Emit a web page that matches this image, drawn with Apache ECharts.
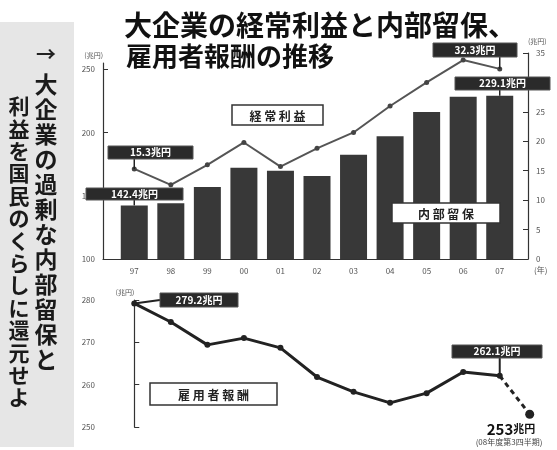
<!DOCTYPE html>
<html><head><meta charset="utf-8">
<script src="https://cdn.jsdelivr.net/npm/echarts@6/dist/echarts.min.js"></script>
<style>html,body{margin:0;padding:0;background:#fff}#c{width:557px;height:450px}</style>
</head><body><div id="c"></div>
<script>
// ---- data ----
const years = ['97','98','99','00','01','02','03','04','05','06','07'];
const reserves = [142.4,144.0,156.9,172.1,169.7,165.7,182.5,197.0,216.3,228.3,229.1]; // 内部留保 兆円
const profits = [15.3,12.6,16.0,19.8,15.7,18.8,21.5,26.0,30.0,33.8,32.3];              // 経常利益 兆円
const compensation = [279.2,274.8,269.4,271.0,268.7,261.8,258.3,255.7,258.0,263.0,262.1]; // 雇用者報酬 兆円
const latestComp = 253;      // 08年度 第3四半期
const latestPos = 10.82;     // position after '07'
const leftTicks = [100,250,50];
const rightTicks = [0,35,5];
const compTicks = [250,280,10];

const FONT = '"Noto Sans CJK JP","Noto Sans",sans-serif';
const chart = echarts.init(document.getElementById('c'), null, {renderer:'canvas'});
const band = 402/11;
const axisCol = '#333';
const lblStyle = {fontSize:8, color:'#555', fontFamily:FONT};

const option = {
  backgroundColor:'#fff',
  animation:false,
  grid:[
    {left:116, width:402, top:63, height:196},
    {left:116, width:402, top:53, height:206},
    {left:103, width:425, top:63, height:196},
    {left:116, width:band*11.5, top:300, height:127}
  ],
  xAxis:[
    {gridIndex:0, type:'category', data:years, boundaryGap:true,
     axisLine:{show:false}, axisTick:{show:false},
     axisLabel:Object.assign({margin:8}, lblStyle)},
    {gridIndex:1, type:'category', data:years, boundaryGap:true, show:false},
    {gridIndex:2, type:'value', min:0, max:1, axisLine:{show:true, lineStyle:{color:axisCol, width:1.2}},
     axisTick:{show:false}, axisLabel:{show:false}, splitLine:{show:false}},
    {gridIndex:3, type:'value', min:-0.5, max:11, show:false}
  ],
  yAxis:[
    {gridIndex:0, type:'value', min:leftTicks[0], max:255, interval:leftTicks[2], offset:13, position:'left',
     name:'(兆円)', nameLocation:'end', nameGap:4, nameTextStyle:{fontSize:7, color:'#555', align:'right', fontFamily:FONT},
     axisLine:{show:true, lineStyle:{color:axisCol, width:1.2}}, axisTick:{show:true, inside:true, length:5, lineStyle:{color:axisCol}},
     axisLabel:lblStyle, splitLine:{show:false}},
    {gridIndex:1, type:'value', min:rightTicks[0], max:rightTicks[1], interval:rightTicks[2], offset:10, position:'right',
     name:'(兆円)', nameLocation:'end', nameGap:8, nameTextStyle:{fontSize:7, color:'#555', align:'left', fontFamily:FONT},
     axisLine:{show:true, lineStyle:{color:axisCol, width:1.2}}, axisTick:{show:true, inside:true, length:5, lineStyle:{color:axisCol}},
     axisLabel:lblStyle, splitLine:{show:false}},
    {gridIndex:2, type:'value', show:false},
    {gridIndex:3, type:'value', min:compTicks[0], max:compTicks[1], interval:compTicks[2], offset:13, position:'left',
     name:'(兆円)', nameLocation:'end', nameGap:4, nameTextStyle:{fontSize:7, color:'#555', align:'right', fontFamily:FONT},
     axisLine:{show:true, lineStyle:{color:axisCol, width:1.2}}, axisTick:{show:true, inside:true, length:5, lineStyle:{color:axisCol}},
     axisLabel:lblStyle, splitLine:{show:false}}
  ],
  series:[
    {type:'bar', xAxisIndex:0, yAxisIndex:0, data:reserves, barWidth:27,
     itemStyle:{color:'#383838'}, z:2},
    {type:'line', xAxisIndex:1, yAxisIndex:1, data:profits, symbol:'circle', symbolSize:5,
     lineStyle:{color:'#555', width:2}, itemStyle:{color:'#444'}, z:3},
    {type:'line', xAxisIndex:3, yAxisIndex:3, data:compensation.map((v,i)=>[i,v]), symbol:'circle', symbolSize:6,
     lineStyle:{color:'#222', width:3}, itemStyle:{color:'#222'}, z:3},
    {type:'line', xAxisIndex:3, yAxisIndex:3, data:[[compensation.length-1, compensation[compensation.length-1]],[latestPos, latestComp]],
     symbol:'circle', symbolSize:(v,p)=>p.dataIndex===1?9:0, clip:false,
     lineStyle:{color:'#222', width:3, type:[5,4]}, itemStyle:{color:'#222'}, z:3}
  ]
};
chart.setOption(option);

const px = (xi, yi, x, y) => chart.convertToPixel({xAxisIndex:xi, yAxisIndex:yi}, [x, y]);
const last = years.length - 1;
const p97 = px(1,1,0,profits[0]);
const p07 = px(1,1,last,profits[last]);
const b97 = px(0,0,0,reserves[0]);
const b07 = px(0,0,last,reserves[last]);
const c97 = px(3,3,0,compensation[0]);
const c07 = px(3,3,last,compensation[last]);

function badge(x,y,w,h,text){
  return {type:'group', children:[
    {type:'rect', z:100, shape:{x:x,y:y,width:w,height:h}, style:{fill:'#2a2a2a', stroke:'#555', lineWidth:1}},
    {type:'text', z:101, style:{x:x+w/2, y:y+h/2, text:text, fill:'#fff', fontSize:10, fontWeight:'bold', fontFamily:FONT, align:'center', verticalAlign:'middle'}}
  ]};
}
function box(x,y,w,h,text){
  return {type:'group', children:[
    {type:'rect', z:100, shape:{x:x,y:y,width:w,height:h}, style:{fill:'#fff', stroke:'#333', lineWidth:1.5}},
    {type:'text', z:101, style:{x:x+w/2, y:y+h/2+1, text:text, fill:'#222', fontSize:12, fontWeight:'bold', fontFamily:FONT, align:'center', verticalAlign:'middle'}}
  ]};
}
function conn(x1,y1,x2,y2,w){
  return {type:'line', z:99, shape:{x1:x1,y1:y1,x2:x2,y2:y2}, style:{stroke:'#222', lineWidth:w||1.5}};
}
const colR = '大企業の過剰な内部留保と'.split('').join('\n');
const colL = '利益を国民のくらしに還元せよ'.split('').join('\n');

chart.setOption({graphic:[
  {type:'rect', z:0, shape:{x:0,y:22,width:74,height:425}, style:{fill:'#e6e6e6'}},
  {type:'text', z:10, style:{x:46, y:54, text:'→', fontSize:20, fontWeight:'bold', fill:'#222', fontFamily:FONT, align:'center', verticalAlign:'middle'}},
  {type:'text', z:10, style:{x:46, y:72, text:colR, fontSize:23, lineHeight:25, fontWeight:'bold', fill:'#1a1a1a', fontFamily:FONT, align:'center', verticalAlign:'top'}},
  {type:'text', z:10, style:{x:19, y:95, text:colL, fontSize:21, lineHeight:22.4, fontWeight:'bold', fill:'#1a1a1a', fontFamily:FONT, align:'center', verticalAlign:'top'}},
  {type:'text', z:10, style:{x:124, y:25, text:'大企業の経常利益と内部留保、', fontSize:28, fontWeight:'bold', fill:'#111', fontFamily:FONT, align:'left', verticalAlign:'middle'}},
  {type:'text', z:10, style:{x:126, y:56, text:'雇用者報酬の推移', fontSize:26, fontWeight:'bold', fill:'#111', fontFamily:FONT, align:'left', verticalAlign:'middle'}},
  {type:'text', z:10, style:{x:534, y:270, text:'(年)', fontSize:8, fill:'#555', fontFamily:FONT, align:'left', verticalAlign:'middle'}},
  box(232,105,91,20,'経 常 利 益'),
  box(392,203,108,20,'内 部 留 保'),
  box(150,383,127,22,'雇 用 者 報 酬'),
  conn(p97[0],159,p97[0],p97[1]),
  badge(108,146,85,13,'15.3兆円'),
  conn(b97[0],199,b97[0],b97[1]),
  badge(86,188,97,12,'142.4兆円'),
  conn(p07[0],56,p07[0],p07[1]),
  badge(433,43,84,14,'32.3兆円'),
  conn(b07[0],89,b07[0],b07[1]),
  badge(455,77,95,13,'229.1兆円'),
  conn(c97[0],c97[1],160,300,2),
  badge(160,293,78,14,'279.2兆円'),
  conn(c07[0],357,c07[0],c07[1],2),
  badge(452,345,90,13,'262.1兆円'),
  {type:'text', z:10, style:{x:511, y:429, text:'{a|253}{b|兆円}', rich:{a:{fontSize:15, fontWeight:'bold', fill:'#111', fontFamily:FONT}, b:{fontSize:11, fontWeight:'bold', fill:'#111', fontFamily:FONT}}, align:'center', verticalAlign:'middle'}},
  {type:'text', z:10, style:{x:509, y:442, text:'(08年度第3四半期)', fontSize:8, fill:'#444', fontFamily:FONT, align:'center', verticalAlign:'middle'}}
]});
</script></body></html>
